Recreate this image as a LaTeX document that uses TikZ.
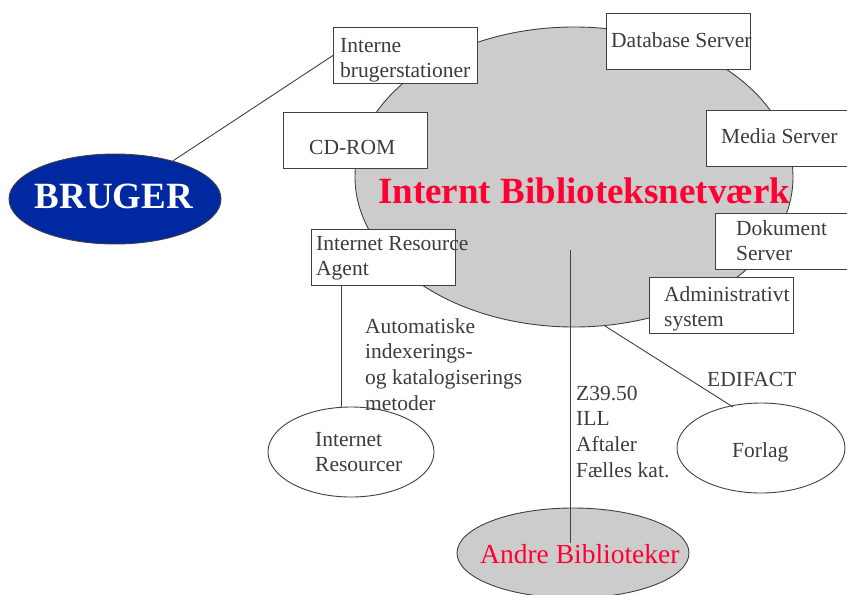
\documentclass[tikz,border=0pt]{standalone}
\usepackage{fontspec}
\setmainfont{Liberation Serif}
\usetikzlibrary{shapes.geometric,calc}
\definecolor{ln}{RGB}{64,64,64}
\definecolor{tx}{RGB}{60,60,60}
\definecolor{redt}{RGB}{255,0,51}
\definecolor{blu}{RGB}{0,40,160}
\definecolor{gry}{RGB}{204,204,204}
\newcommand\mlines[1]{\begin{tabular}[t]{@{}l@{}}#1\end{tabular}}
\begin{document}
\begin{tikzpicture}[x=1pt,y=-1pt,
  box/.style={draw=ln,line width=0.9pt,fill=white,minimum width=144pt,minimum height=56pt,inner sep=0pt,anchor=north west},
  ell/.style={ellipse,draw=ln,line width=0.9pt,inner sep=0pt},
  lbl/.style={text=tx,font=\fontsize{21.5}{25.7}\selectfont,inner sep=0pt,anchor=base west},
  conn/.style={draw=ln,line width=0.9pt}]
\useasboundingbox (0,0) rectangle (847,595);
% ellipses
\node[ell,fill=gry,minimum width=438pt,minimum height=300pt] (net) at (574,177) {};
\node[ell,fill=blu,minimum width=212pt,minimum height=90pt] (bruger) at (115,199) {};
\node[ell,fill=white,minimum width=166pt,minimum height=90pt] (ir) at (351,452) {};
\node[ell,fill=white,minimum width=168pt,minimum height=90pt] (forlag) at (761,448) {};
\node[ell,fill=gry,minimum width=232pt,minimum height=90pt] (andre) at (573,553) {};
% coordinates
\coordinate (vtop) at (570,250);
\coordinate (vbot) at (570,543);
\coordinate (fa) at (605,326);
\coordinate (fb) at (733,407);
% boxes
\node[box] (interne) at (333,27) {};
\node[box] (cdrom) at (283,112) {};
\node[box] (ira) at (311,229) {};
\node[box] (db) at (606,13) {};
\node[box] (media) at (706,110) {};
\node[box] (dok) at (715,213) {};
\node[box] (adm) at (649,277) {};
\coordinate (irl) at ($(ira.south west)+(30,0)$);
% connectors
\draw[conn] (bruger) -- (interne.west);
\draw[conn] ($(bruger.east)+(0,3)$) -- ($(bruger.east)+(0,3)$ -| net.west);
\draw[conn] (irl) -- (irl |- ir.north);
\draw[conn] (vtop) -- (vbot);
\draw[conn] (fa) -- (fb);
% texts
\node[anchor=base,inner sep=0pt,text=white,font=\bfseries\fontsize{37}{40}\selectfont] (brugert) at (114,208) {BRUGER};
\node[lbl] (t1) at (340,52) {\mlines{Interne\\brugerstationer}};
\node[lbl] (t2) at (309,154) {CD-ROM};
\node[lbl] (t3) at (316,250) {\mlines{Internet Resource\\Agent}};
\node[lbl] (t4) at (611,47) {Database Server};
\node[lbl] (t5) at (721,143) {Media Server};
\node[lbl] (t6) at (736,235) {\mlines{Dokument\\Server}};
\node[lbl] (t7) at (664,301) {\mlines{Administrativt\\system}};
\node[lbl] (t8) at (365,333) {\mlines{Automatiske\\indexerings-\\og katalogiserings\\metoder}};
\node[lbl] (t9) at (315,446) {\mlines{Internet\\Resourcer}};
\node[lbl] (t10) at (576,400) {\mlines{Z39.50\\ILL\\Aftaler\\Fælles kat.}};
\node[lbl] (t11) at (707,386) {EDIFACT};
\node[lbl] (t12) at (732,457) {Forlag};
\node[anchor=base west,inner sep=0pt,text=redt,font=\bfseries\fontsize{37}{40}\selectfont] (title) at (378,203) {Internt Biblioteksnetværk};
\node[anchor=base west,inner sep=0pt,text=redt,font=\fontsize{27.5}{30}\selectfont] (andret) at (480,563) {Andre Biblioteker};
\end{tikzpicture}
\end{document}
